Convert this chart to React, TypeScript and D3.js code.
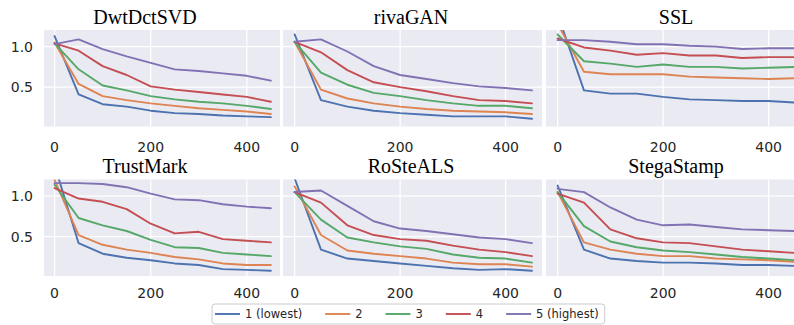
import React from 'react';
import * as d3 from 'd3';

// attack strength on x, bit accuracy-ish score on y
const steps = [0, 50, 100, 150, 200, 250, 300, 350, 400, 450];
const levels = ['1 (lowest)', '2', '3', '4', '5 (highest)'];
const colors = ['#4c72b0', '#dd8452', '#55a868', '#c44e52', '#8172b3'];
const methods = ['DwtDctSVD', 'rivaGAN', 'SSL', 'TrustMark', 'RoSteALS', 'StegaStamp'];
const xTicks = [0, 200, 400];
const yTicks = [0.5, 1.0];

const dwtDctSvd = [
  [1.13, 0.41, 0.29, 0.26, 0.21, 0.18, 0.17, 0.15, 0.14, 0.13],
  [1.05, 0.54, 0.39, 0.34, 0.30, 0.27, 0.24, 0.22, 0.20, 0.17],
  [1.04, 0.72, 0.52, 0.46, 0.39, 0.35, 0.32, 0.30, 0.27, 0.23],
  [1.04, 0.95, 0.76, 0.65, 0.51, 0.47, 0.44, 0.41, 0.38, 0.32],
  [1.03, 1.09, 0.97, 0.88, 0.80, 0.72, 0.70, 0.67, 0.64, 0.58],
];
const rivaGan = [
  [1.15, 0.34, 0.26, 0.21, 0.18, 0.16, 0.14, 0.14, 0.14, 0.11],
  [1.06, 0.47, 0.36, 0.30, 0.26, 0.23, 0.21, 0.20, 0.19, 0.17],
  [1.06, 0.68, 0.53, 0.43, 0.39, 0.34, 0.30, 0.27, 0.27, 0.24],
  [1.06, 0.93, 0.71, 0.56, 0.50, 0.45, 0.39, 0.34, 0.33, 0.30],
  [1.06, 1.09, 0.94, 0.76, 0.65, 0.60, 0.55, 0.51, 0.49, 0.46],
];
const ssl = [
  [1.40, 0.46, 0.42, 0.42, 0.38, 0.35, 0.34, 0.33, 0.33, 0.31],
  [1.28, 0.69, 0.66, 0.66, 0.66, 0.63, 0.62, 0.61, 0.60, 0.61],
  [1.15, 0.82, 0.79, 0.75, 0.78, 0.75, 0.75, 0.73, 0.74, 0.75],
  [1.10, 0.99, 0.95, 0.90, 0.92, 0.89, 0.89, 0.86, 0.87, 0.87],
  [1.08, 1.08, 1.06, 1.03, 1.03, 1.01, 1.00, 0.97, 0.98, 0.98],
];
const trustMark = [
  [1.38, 0.42, 0.29, 0.24, 0.21, 0.17, 0.15, 0.10, 0.09, 0.08],
  [1.20, 0.52, 0.40, 0.34, 0.30, 0.25, 0.22, 0.17, 0.15, 0.15],
  [1.14, 0.73, 0.64, 0.57, 0.46, 0.37, 0.36, 0.30, 0.28, 0.26],
  [1.10, 0.97, 0.93, 0.84, 0.66, 0.54, 0.56, 0.47, 0.45, 0.43],
  [1.16, 1.16, 1.15, 1.11, 1.03, 0.96, 0.95, 0.90, 0.87, 0.85],
];
const roSteAls = [
  [1.22, 0.34, 0.23, 0.20, 0.17, 0.14, 0.11, 0.09, 0.10, 0.08],
  [1.12, 0.52, 0.33, 0.29, 0.26, 0.23, 0.18, 0.16, 0.16, 0.13],
  [1.05, 0.71, 0.49, 0.43, 0.38, 0.35, 0.28, 0.24, 0.23, 0.18],
  [1.05, 0.92, 0.64, 0.52, 0.47, 0.45, 0.39, 0.34, 0.31, 0.26],
  [1.05, 1.07, 0.88, 0.69, 0.60, 0.57, 0.53, 0.49, 0.47, 0.42],
];
const stegaStamp = [
  [1.13, 0.34, 0.23, 0.20, 0.18, 0.18, 0.17, 0.15, 0.15, 0.14],
  [1.05, 0.43, 0.34, 0.29, 0.26, 0.26, 0.23, 0.22, 0.21, 0.19],
  [1.05, 0.63, 0.44, 0.37, 0.33, 0.31, 0.28, 0.25, 0.23, 0.21],
  [1.03, 0.92, 0.59, 0.48, 0.43, 0.42, 0.38, 0.34, 0.32, 0.30],
  [1.09, 1.05, 0.86, 0.71, 0.64, 0.65, 0.62, 0.59, 0.58, 0.57],
];
const allSeries = [dwtDctSvd, rivaGan, ssl, trustMark, roSteAls, stegaStamp];

const cols = [
  { x0: 44, x1: 280, tx: 145 },
  { x0: 283, x1: 542, tx: 411 },
  { x0: 546, x1: 805, tx: 676 },
];
const rows = [
  { y0: 30, y1: 126.5, title: 24, tick: 151.5 },
  { y0: 179.5, y1: 276, title: 172.5, tick: 298 },
];

const tickFont = 'DejaVu Sans, sans-serif';
const measure = (txt: string, font: string) => {
  const ctx = document.createElement('canvas').getContext('2d');
  if (!ctx) return txt.length * 6;
  ctx.font = font;
  return ctx.measureText(txt).width;
};

const Panel: React.FC<{ idx: number }> = ({ idx }) => {
  const c = cols[idx % 3];
  const r = rows[Math.floor(idx / 3)];
  const x = d3.scaleLinear().domain([-22, 469]).range([c.x0, c.x1]);
  const y = d3.scaleLinear().domain([0.015, 1.205]).range([r.y1, r.y0]);
  const line = d3.line<number>()
    .x((_, i) => x(steps[i]))
    .y((d) => y(d));
  const clipId = `clip-${idx}`;
  return (
    <g>
      <clipPath id={clipId}>
        <rect x={c.x0} y={r.y0} width={c.x1 - c.x0} height={r.y1 - r.y0} />
      </clipPath>
      <rect x={c.x0} y={r.y0} width={c.x1 - c.x0} height={r.y1 - r.y0} fill="#eaeaf2" />
      {xTicks.map((t) => (
        <line key={'gx' + t} x1={x(t)} x2={x(t)} y1={r.y0} y2={r.y1} stroke="#fff" strokeWidth={1.3} />
      ))}
      {yTicks.map((t) => (
        <line key={'gy' + t} x1={c.x0} x2={c.x1} y1={y(t)} y2={y(t)} stroke="#fff" strokeWidth={1.3} />
      ))}
      <g clipPath={`url(#${clipId})`}>
        {allSeries[idx].map((s, k) => (
          <path key={k} d={line(s) || ''} fill="none" stroke={colors[k]} strokeWidth={1.9}
            strokeLinejoin="round" strokeLinecap="round" />
        ))}
      </g>
      {xTicks.map((t) => (
        <text key={'tx' + t} x={x(t)} y={r.tick} textAnchor="middle" fontFamily={tickFont}
          fontSize={14} fill="#262626">{t}</text>
      ))}
      {idx % 3 === 0 && yTicks.map((t) => (
        <text key={'ty' + t} x={33} y={y(t)} dy="0.36em" textAnchor="end" fontFamily={tickFont}
          fontSize={14} fill="#262626">{t.toFixed(1)}</text>
      ))}
      <text x={c.tx} y={r.title} textAnchor="middle" fontFamily="Liberation Serif, Times New Roman, serif"
        fontSize={20} fill="#000">{methods[idx]}</text>
    </g>
  );
};

const Legend: React.FC = () => {
  const fs = 11.5;
  const font = `${fs}px DejaVu Sans`;
  let cx = 215;
  const items = levels.map((lab, k) => {
    const w = measure(lab, font);
    const it = { lab, k, lx: cx, tx: cx + 30 };
    cx += 30 + w + 23;
    return it;
  });
  const right = cx - 23 + 6;
  return (
    <g>
      <rect x={212} y={304} width={right - 212} height={20} rx={3} fill="#fff" fillOpacity={0.8}
        stroke="#cccccc" strokeWidth={1} />
      {items.map((it) => (
        <g key={it.k}>
          <line x1={it.lx} x2={it.lx + 25} y1={314} y2={314} stroke={colors[it.k]} strokeWidth={1.9} />
          <text x={it.tx} y={314} dy="0.36em" fontFamily={tickFont} fontSize={fs} fill="#262626">{it.lab}</text>
        </g>
      ))}
    </g>
  );
};

export default function App() {
  return (
    <svg width={794} height={325} style={{ position: 'absolute', left: 0, top: 0 }}>
      <rect width={794} height={325} fill="#fff" />
      {methods.map((_, i) => <Panel key={i} idx={i} />)}
      <Legend />
    </svg>
  );
}
